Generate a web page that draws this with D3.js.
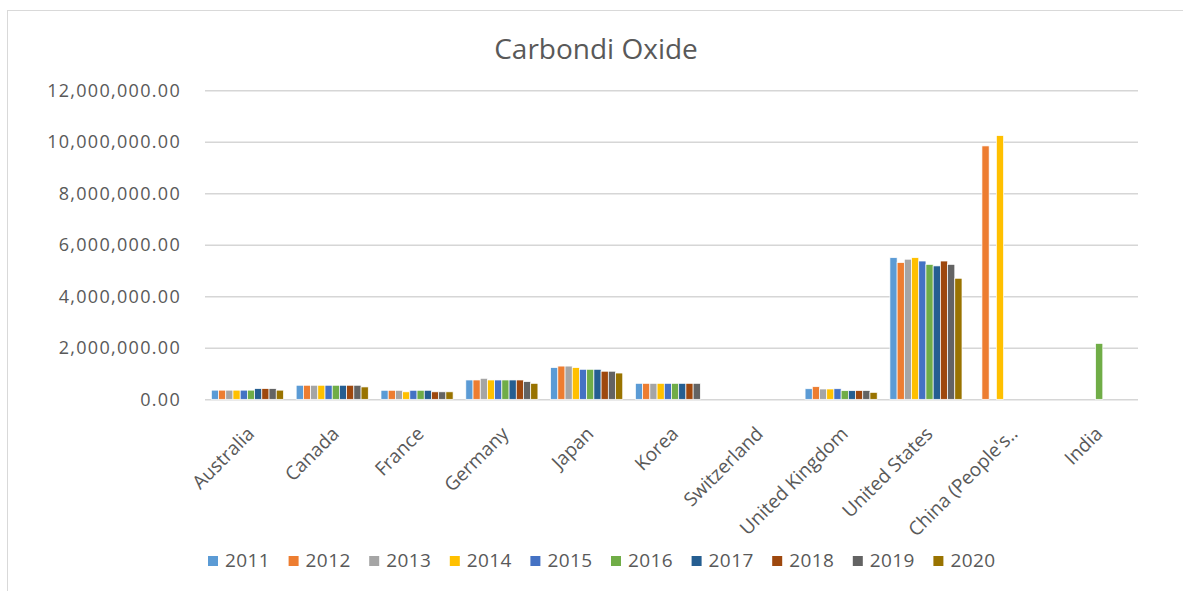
<!DOCTYPE html>
<html>
<head>
<meta charset="utf-8">
<script src="https://cdn.jsdelivr.net/npm/d3@7"></script>
<style>
  body { margin: 0; background: #fff; }
  text { font-family: "Open Sans", sans-serif; fill: #595959; }
</style>
</head>
<body>
<script>
    // chart data (kt of CO2), one array per country, order = years
    var categories = ["Australia", "Canada", "France", "Germany", "Japan", "Korea",
        "Switzerland", "United Kingdom", "United States", "China (People's..", "India"];
    var years = ["2011", "2012", "2013", "2014", "2015", "2016", "2017", "2018", "2019", "2020"];
    var yTicks = [0, 2000000, 4000000, 6000000, 8000000, 10000000, 12000000];

    var australia   = [355000, 355000, 355000, 355000, 355000, 355000, 415000, 415000, 415000, 355000];
    var canada      = [545000, 545000, 545000, 545000, 545000, 545000, 545000, 545000, 545000, 480000];
    var france      = [350000, 350000, 350000, 290000, 350000, 350000, 350000, 290000, 290000, 290000];
    var germany     = [750000, 750000, 815000, 750000, 750000, 750000, 750000, 750000, 685000, 620000];
    var japan       = [1230000, 1290000, 1290000, 1230000, 1165000, 1165000, 1165000, 1090000, 1090000, 1020000];
    var korea       = [620000, 620000, 620000, 620000, 620000, 620000, 620000, 620000, 620000, null];
    var switzerland = [null, null, null, null, null, null, null, null, null, null];
    var uk          = [410000, 490000, 400000, 400000, 410000, 335000, 335000, 340000, 340000, 270000];
    var us          = [5500000, 5310000, 5440000, 5500000, 5370000, 5240000, 5180000, 5370000, 5240000, 4700000];
    var china       = [null, 9840000, null, 10240000, null, null, null, null, null, null];
    var india       = [null, null, null, null, null, 2170000, null, null, null, null];
    var rows = [australia, canada, france, germany, japan, korea, switzerland, uk, us, china, india];

    var colors = ["#5B9BD5", "#ED7D31", "#A5A5A5", "#FFC000", "#4472C4",
        "#70AD47", "#255E91", "#9E480E", "#636363", "#997300"];

    var width = 1183, height = 591;
    var plotLeft = 205, plotRight = 1138, plotTop = 90.3, plotBottom = 399.3;

    var svg = d3.select("body").append("svg")
        .attr("width", width).attr("height", height);

    // chart area border (runs off the right/bottom edge like the screenshot)
    svg.append("rect")
        .attr("x", 7.5).attr("y", 10.5)
        .attr("width", 1190).attr("height", 600)
        .style("fill", "none").style("stroke", "#d9d9d9");

    var x0 = d3.scaleBand().domain(categories).range([plotLeft, plotRight]);
    var pad = x0.bandwidth() * 0.075;
    var x1 = d3.scaleBand().domain(years).range([pad, x0.bandwidth() - pad]);
    var y = d3.scaleLinear().domain([0, 12000000]).range([plotBottom, plotTop]);
    var color = d3.scaleOrdinal().domain(years).range(colors);

    // gridlines + y labels
    var yAxis = d3.axisLeft(y).tickValues(yTicks)
        .tickSize(-(plotRight - plotLeft)).tickPadding(24)
        .tickFormat(d3.format(",.2f"));
    var ga = svg.append("g").attr("transform", "translate(" + plotLeft + ",0)").call(yAxis);
    ga.select(".domain").remove();
    ga.selectAll(".tick line").style("stroke", "#d6d6d6").style("stroke-width", 1.4);
    ga.selectAll(".tick text")
        .style("font-family", "'Open Sans', sans-serif")
        .style("font-size", "18px").style("letter-spacing", "1.3px")
        .style("fill", "#595959");

    // bars
    var groups = svg.selectAll(".country").data(rows).enter().append("g")
        .attr("class", "country")
        .attr("transform", function(d, i) { return "translate(" + x0(categories[i]) + ",0)"; });

    groups.selectAll("rect")
        .data(function(d) { return d.map(function(v, j) { return {year: years[j], value: v}; })
            .filter(function(e) { return e.value != null; }); })
        .enter().append("rect")
        .attr("x", function(d) { return x1(d.year); })
        .attr("width", x1.bandwidth())
        .attr("y", function(d) { return y(d.value); })
        .attr("height", function(d) { return plotBottom - y(d.value); })
        .style("fill", function(d) { return color(d.year); })
        .style("stroke", "#fff").style("stroke-width", 0.7);

    // category labels, rotated
    svg.selectAll(".cat").data(categories).enter().append("text")
        .attr("class", "cat")
        .attr("text-anchor", "end")
        .attr("transform", function(d) {
            var cx = x0(d) + x0.bandwidth() / 2 + 8;
            return "translate(" + cx + ",435) rotate(-45)";
        })
        .style("font-size", "19px")
        .text(function(d) { return d; });

    // title
    svg.append("text")
        .attr("x", 596).attr("y", 59)
        .attr("text-anchor", "middle")
        .style("font-size", "28px")
        .text("Carbondi Oxide");

    // legend
    var step = 80.6;
    var lg = svg.selectAll(".leg").data(years).enter().append("g")
        .attr("class", "leg")
        .attr("transform", function(d, i) { return "translate(" + (208 + i * step) + ",556)"; });
    lg.append("rect").attr("width", 10).attr("height", 10)
        .style("fill", function(d) { return color(d); });
    lg.append("text").attr("x", 17).attr("y", 11)
        .style("font-size", "19px").style("letter-spacing", "0.4px")
        .text(function(d) { return d; });
</script>
</body>
</html>
